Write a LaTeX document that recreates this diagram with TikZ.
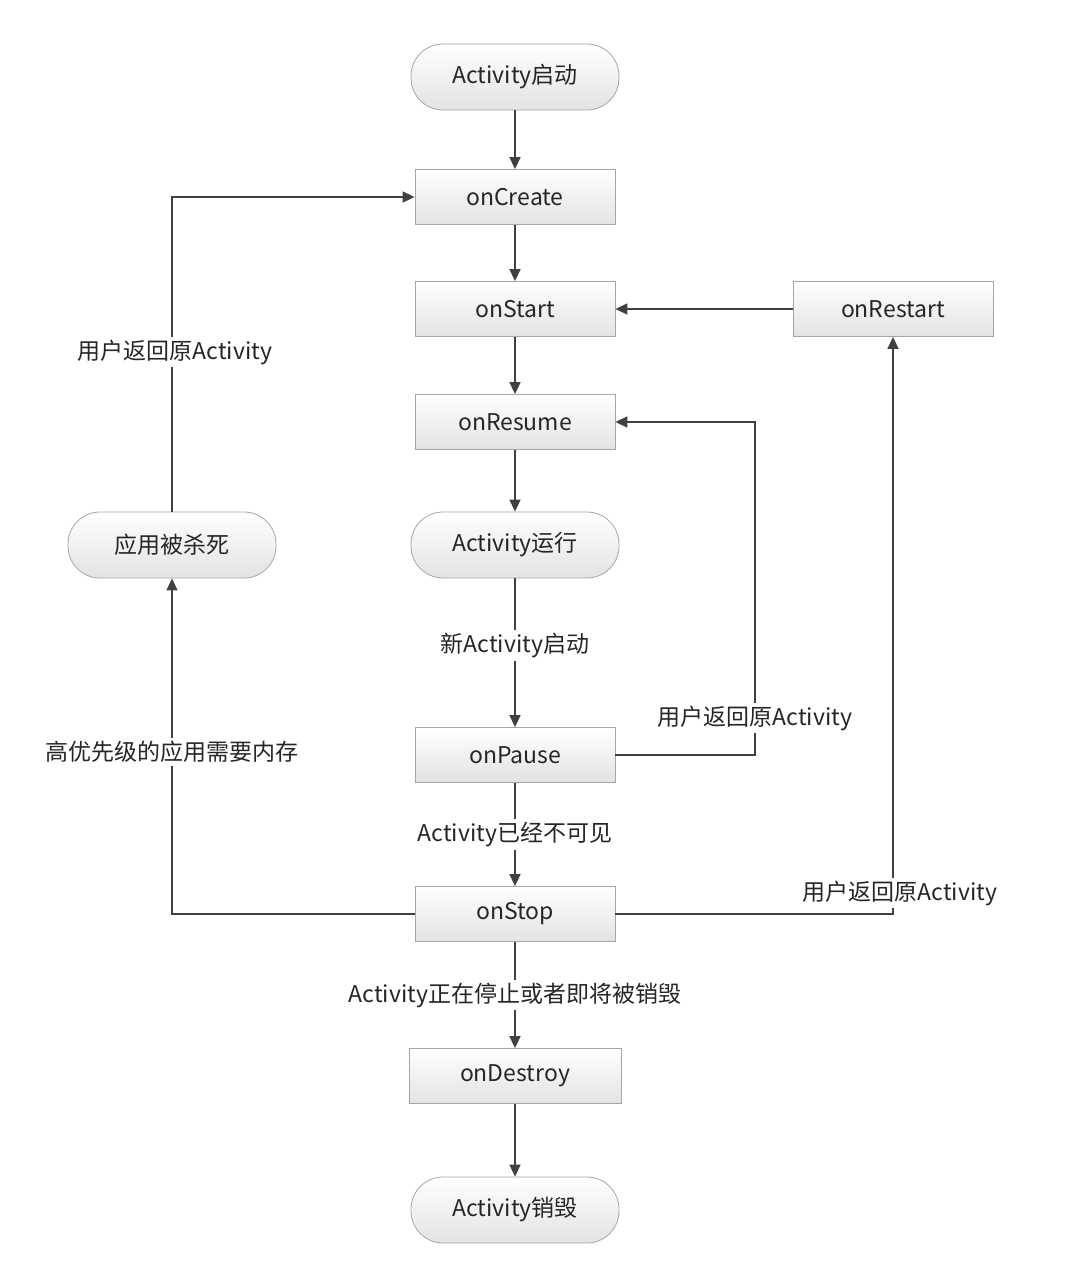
\documentclass[tikz,border=0pt]{standalone}
\usepackage{fontspec}
\setmainfont{Noto Sans CJK SC}
\usetikzlibrary{arrows.meta}
\begin{document}
\begin{tikzpicture}[x=0.5pt,y=-0.5pt,
  box/.style={draw=gray!70,top color=white,bottom color=gray!22,minimum width=100pt,minimum height=27.5pt,inner sep=0pt,font=\fontsize{11.5}{13}\selectfont,text=black!85},
  pill/.style={box,rounded corners=16pt,minimum height=33pt,minimum width=104pt},
  arr/.style={draw=black!75,line width=0.8pt,-{Triangle[length=6pt,width=5.5pt]}},
  lab/.style={fill=white,inner sep=1.5pt,font=\fontsize{11.5}{13}\selectfont,text=black!85}]
\useasboundingbox (0,0) rectangle (1080,1269);
\node[pill] (s) at (515,77) {Activity启动};
\node[box] (cr) at (515,197) {onCreate};
\node[box] (st) at (515,309) {onStart};
\node[box] (rs) at (893,309) {onRestart};
\node[box] (re) at (515,422) {onResume};
\node[pill] (run) at (515,545) {Activity运行};
\node[pill] (kill) at (172,545) {应用被杀死};
\node[box] (pa) at (515,755) {onPause};
\node[box] (so) at (515,914) {onStop};
\node[box,minimum width=106pt] (de) at (515,1076) {onDestroy};
\node[pill] (end) at (515,1210) {Activity销毁};
\coordinate (p1) at (755,755);
\coordinate (p2) at (755,422);
\coordinate (q1) at (893,914);
\coordinate (k1) at (172,914);
\coordinate (k2) at (172,197);
\draw[arr] (s) -- (cr);
\draw[arr] (cr) -- (st);
\draw[arr] (st) -- (re);
\draw[arr] (re) -- (run);
\draw[arr] (run) -- node[lab,pos=0.45]{新Activity启动} (pa);
\draw[arr] (pa) -- node[lab,pos=0.5]{Activity已经不可见} (so);
\draw[arr] (so) -- node[lab,pos=0.5]{Activity正在停止或者即将被销毁} (de);
\draw[arr] (de) -- (end);
\draw[arr] (rs) -- (st);
\draw[arr] (pa.east) -- (p1) -- (p2) -- (re.east);
\node[lab] at (755,718) {用户返回原Activity};
\draw[arr] (so.east) -- (q1) -- (rs.south);
\node[lab] at (900,893) {用户返回原Activity};
\draw[arr] (so.west) -- (k1) -- (kill.south);
\node[lab] at (172,752) {高优先级的应用需要内存};
\draw[arr] (kill.north) -- (k2) -- (cr.west);
\node[lab] at (175,352) {用户返回原Activity};
\end{tikzpicture}
\end{document}
